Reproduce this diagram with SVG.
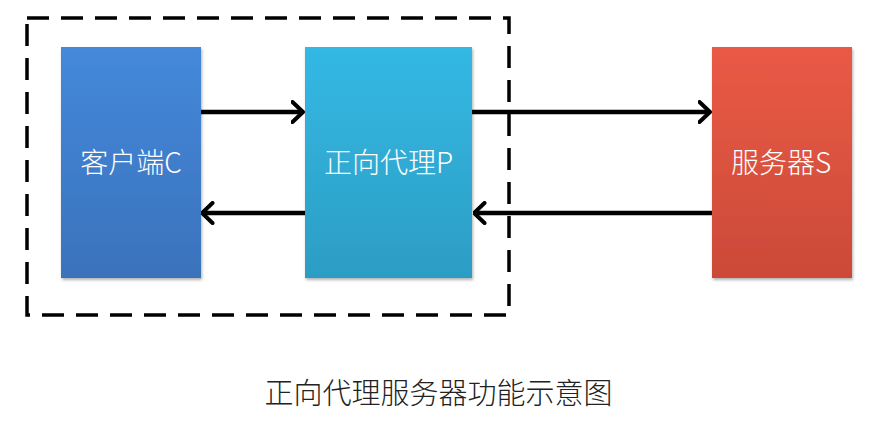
<svg xmlns="http://www.w3.org/2000/svg" width="892" height="432" viewBox="0 0 892 432">
<defs>
<linearGradient id="gC" x1="0" y1="0" x2="0" y2="1"><stop offset="0" stop-color="#4489DA"/><stop offset="1" stop-color="#3A72BC"/></linearGradient>
<linearGradient id="gP" x1="0" y1="0" x2="0" y2="1"><stop offset="0" stop-color="#33B9E4"/><stop offset="1" stop-color="#2C9DC4"/></linearGradient>
<linearGradient id="gS" x1="0" y1="0" x2="0" y2="1"><stop offset="0" stop-color="#E95A45"/><stop offset="1" stop-color="#CC4A38"/></linearGradient>
<filter id="sh" x="-10%" y="-10%" width="120%" height="120%"><feDropShadow dx="1" dy="2" stdDeviation="1.5" flood-color="#000" flood-opacity="0.3"/></filter>
<marker id="ah" viewBox="0 0 14 24" refX="12.5" refY="12" markerWidth="14" markerHeight="24" markerUnits="userSpaceOnUse" orient="auto">
<path d="M2,2 L12.5,12 L2,22" fill="none" stroke="#000" stroke-width="4" stroke-linecap="round" stroke-linejoin="round"/>
</marker>
</defs>
<style>
.lbl{font-family:"Noto Sans CJK SC","Noto Sans",sans-serif;font-size:28px;font-weight:300;fill:#fff;text-anchor:middle}
.cap{font-family:"Noto Sans CJK SC",sans-serif;font-size:29px;font-weight:300;fill:#222;text-anchor:middle}
.con{stroke:#000;stroke-width:4.5;fill:none;marker-end:url(#ah)}
</style>
<rect x="27" y="18" width="482" height="297" fill="none" stroke="#000" stroke-width="3.5" stroke-dasharray="22,12"/>
<g id="client"><rect x="61" y="47" width="140" height="231" fill="url(#gC)" filter="url(#sh)"/><text class="lbl" x="131" y="173">客户端C</text></g>
<g id="proxy"><rect x="305" y="47" width="167" height="231" fill="url(#gP)" filter="url(#sh)"/><text class="lbl" x="388.5" y="173">正向代理P</text></g>
<g id="server"><rect x="712" y="47" width="140" height="231" fill="url(#gS)" filter="url(#sh)"/><text class="lbl" x="781" y="173">服务器S</text></g>
<g id="connectors">
<line class="con" x1="201" y1="112" x2="303" y2="112"/>
<line class="con" x1="305" y1="213" x2="202" y2="213"/>
<line class="con" x1="472" y1="112" x2="710" y2="112"/>
<line class="con" x1="712" y1="213" x2="474" y2="213"/>
</g>
<text class="cap" x="438.5" y="404">正向代理服务器功能示意图</text>
</svg>
